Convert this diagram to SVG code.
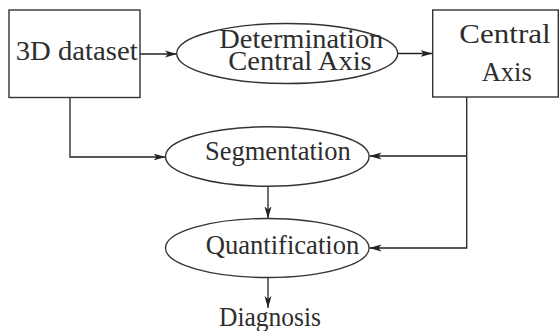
<svg xmlns="http://www.w3.org/2000/svg" width="559" height="331" viewBox="0 0 559 331">
<defs>
<style>
.n{fill:#fff;stroke:#333;stroke-width:1.4}
.c{fill:none;stroke:#222;stroke-width:1.3}
.t{font-family:"Liberation Serif","Times New Roman",serif;font-size:27px;fill:#2e2e2e}
</style>
<marker id="ah" viewBox="0 0 12 8" refX="12" refY="4" markerWidth="12" markerHeight="8" markerUnits="userSpaceOnUse" orient="auto">
<path d="M0,0.5 L12,4 L0,7.5 L3,4 Z" fill="#222"/>
</marker>
</defs>
<rect width="559" height="331" fill="#fff"/>
<g id="connectors">
<line class="c" x1="140" y1="54" x2="177" y2="54" marker-end="url(#ah)"/>
<line class="c" x1="398" y1="53.5" x2="432.5" y2="53.5" marker-end="url(#ah)"/>
<polyline class="c" points="70,97 70,157 165.5,157" marker-end="url(#ah)"/>
<polyline class="c" points="466.7,97 466.7,248 369.5,248" marker-end="url(#ah)"/>
<line class="c" x1="466.7" y1="156" x2="369.5" y2="156" marker-end="url(#ah)"/>
<line class="c" x1="268" y1="186" x2="268" y2="218.5" marker-end="url(#ah)"/>
<line class="c" x1="268" y1="277.5" x2="268" y2="308" marker-end="url(#ah)"/>
</g>
<g id="dataset">
<rect class="n" x="9" y="10" width="131" height="87.5"/>
<text class="t" x="15.7" y="60" textLength="122" lengthAdjust="spacingAndGlyphs">3D dataset</text>
</g>
<g id="determination">
<ellipse class="n" cx="287.2" cy="53.5" rx="110.5" ry="30"/>
<text class="t" x="219.3" y="48.3" textLength="164" lengthAdjust="spacingAndGlyphs">Determination</text>
<text class="t" x="228.3" y="70" textLength="143.4" lengthAdjust="spacingAndGlyphs">Central Axis</text>
</g>
<g id="centralaxis">
<rect class="n" x="432.7" y="10" width="125.6" height="87"/>
<text class="t" x="459.3" y="43.3" textLength="91.4" lengthAdjust="spacingAndGlyphs">Central</text>
<text class="t" x="481.7" y="81" textLength="50" lengthAdjust="spacingAndGlyphs">Axis</text>
</g>
<g id="segmentation">
<ellipse class="n" cx="267.3" cy="156.5" rx="101.8" ry="29.7"/>
<text class="t" x="205" y="160" textLength="145.7" lengthAdjust="spacingAndGlyphs">Segmentation</text>
</g>
<g id="quantification">
<ellipse class="n" cx="267.3" cy="248" rx="101.8" ry="29.5"/>
<text class="t" x="205.7" y="254.3" textLength="153.6" lengthAdjust="spacingAndGlyphs">Quantification</text>
</g>
<g id="diagnosis">
<text class="t" x="219" y="325.5" textLength="102" lengthAdjust="spacingAndGlyphs">Diagnosis</text>
</g>
</svg>
